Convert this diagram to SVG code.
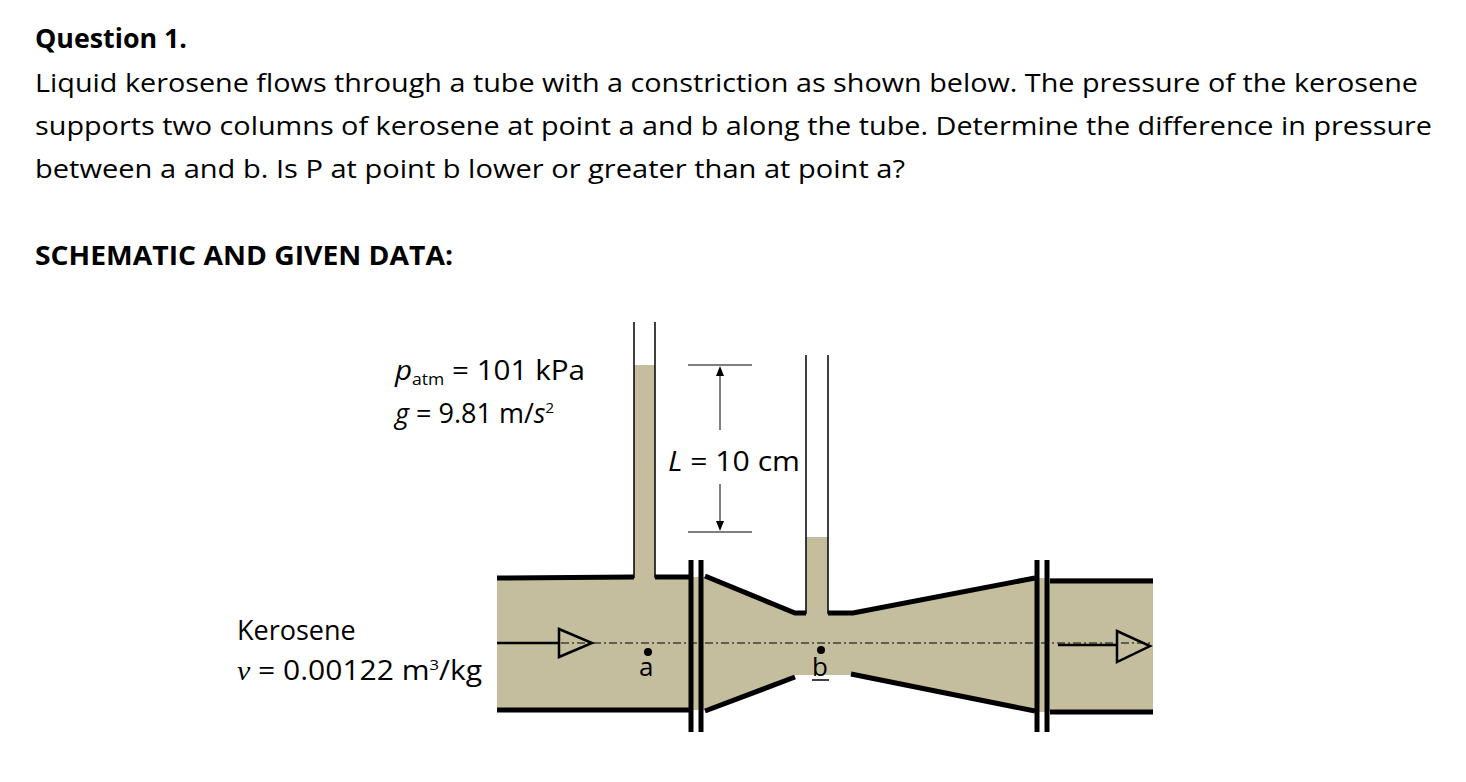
<svg xmlns="http://www.w3.org/2000/svg" width="1466" height="782" viewBox="0 0 1466 782">
<style>
.t{font-family:"Open Sans","Liberation Sans",sans-serif;font-size:26px;fill:#000}
.l{font-size:27px}
.b{font-weight:bold}
.w{stroke:#000;stroke-width:5;fill:none}
.th{stroke:#000;stroke-width:1.5;fill:none}
</style>
<rect width="1466" height="782" fill="#fff"/>
<text class="t b" x="35" y="48" textLength="152" lengthAdjust="spacingAndGlyphs">Question 1.</text>
<text class="t" x="35" y="92" textLength="1383" lengthAdjust="spacingAndGlyphs">Liquid kerosene flows through a tube with a constriction as shown below. The pressure of the kerosene</text>
<text class="t" x="35" y="135" textLength="1397" lengthAdjust="spacingAndGlyphs">supports two columns of kerosene at point a and b along the tube. Determine the difference in pressure</text>
<text class="t" x="35" y="178" textLength="870" lengthAdjust="spacingAndGlyphs">between a and b. Is P at point b lower or greater than at point a?</text>
<text class="t b" x="35" y="265" textLength="418" lengthAdjust="spacingAndGlyphs">SCHEMATIC AND GIVEN DATA:</text>
<text class="t l" x="395" y="380" textLength="190" lengthAdjust="spacingAndGlyphs"><tspan font-style="italic">p</tspan><tspan font-size="16" dy="5">atm</tspan><tspan dy="-5"> = 101 kPa</tspan></text>
<text class="t l" x="395" y="423"><tspan font-style="italic">g</tspan> = 9.81 m/<tspan font-style="italic">s</tspan><tspan font-size="15" dy="-10">2</tspan></text>
<text class="t l" x="237" y="640">Kerosene</text>
<text class="t l" x="237" y="680" textLength="245" lengthAdjust="spacingAndGlyphs"><tspan font-style="italic" font-family="Liberation Serif">v</tspan> = 0.00122 m<tspan font-size="15" dy="-10">3</tspan><tspan dy="10">/kg</tspan></text>
<g id="fluid" fill="#c4be9e">
<rect x="497" y="578" width="192" height="132"/>
<rect x="634" y="365" width="21" height="215"/>
<polygon points="689,577 705,577 795,614 853,614 1035,578 1153,578 1153,712 1035,712 851,675 795,675 705,710 689,710"/>
<rect x="806" y="537" width="22" height="80"/>
</g>
<g id="walls">
<line class="th" x1="634" y1="322" x2="634" y2="578"/>
<line class="th" x1="655" y1="322" x2="655" y2="578"/>
<line class="th" x1="806" y1="355" x2="806" y2="614"/>
<line class="th" x1="828" y1="355" x2="828" y2="614"/>
<polyline class="w" points="497,578 634,577"/>
<polyline class="w" points="655,577 689,577"/>
<line class="w" x1="497" y1="710" x2="689" y2="710"/>
<polyline class="w" points="705,576 795,613 806,613"/>
<polyline class="w" points="828,613 853,613 1035,578"/>
<line class="w" x1="705" y1="711" x2="795" y2="677"/>
<line class="w" x1="851" y1="674" x2="1035" y2="711"/>
<line class="w" x1="1050" y1="581" x2="1153" y2="581"/>
<line class="w" x1="1050" y1="712" x2="1153" y2="712"/>
<line class="w" x1="691" y1="560" x2="691" y2="732"/>
<line class="w" x1="701" y1="560" x2="701" y2="732"/>
<line class="w" x1="1037" y1="560" x2="1037" y2="732"/>
<line class="w" x1="1047" y1="560" x2="1047" y2="732"/>
</g>
<g id="connectors">
<line x1="497" y1="643" x2="1153" y2="643" stroke="#000" stroke-width="1" stroke-dasharray="8,3,2,3"/>
<line x1="497" y1="643" x2="560" y2="643" stroke="#000" stroke-width="2.5"/>
<polygon points="559,629 559,657 592,643" fill="none" stroke="#000" stroke-width="2.5"/>
<line x1="1058" y1="645" x2="1118" y2="645" stroke="#000" stroke-width="2.5"/>
<polygon points="1117,631 1117,662 1150,646" fill="none" stroke="#000" stroke-width="2.5"/>
<line x1="688" y1="365" x2="752" y2="365" stroke="#000" stroke-width="1"/>
<line x1="688" y1="532" x2="752" y2="532" stroke="#000" stroke-width="1"/>
<line x1="720" y1="372" x2="720" y2="430" stroke="#000" stroke-width="1"/>
<line x1="720" y1="484" x2="720" y2="526" stroke="#000" stroke-width="1"/>
<polygon points="720,366 716,376 724,376" fill="#000"/>
<polygon points="720,531 716,521 724,521" fill="#000"/>
</g>
<text class="t l" x="668" y="471" textLength="132" lengthAdjust="spacingAndGlyphs"><tspan font-style="italic">L</tspan> = 10 cm</text>
<g id="pointA"><circle cx="648" cy="652" r="4" fill="#000"/><text class="t" x="639" y="676" font-size="23">a</text></g>
<g id="pointB"><circle cx="821" cy="650" r="4" fill="#000"/><text class="t" x="812" y="676" font-size="23">b</text><line x1="812" y1="680" x2="829" y2="680" stroke="#000" stroke-width="1.5"/></g>
</svg>
